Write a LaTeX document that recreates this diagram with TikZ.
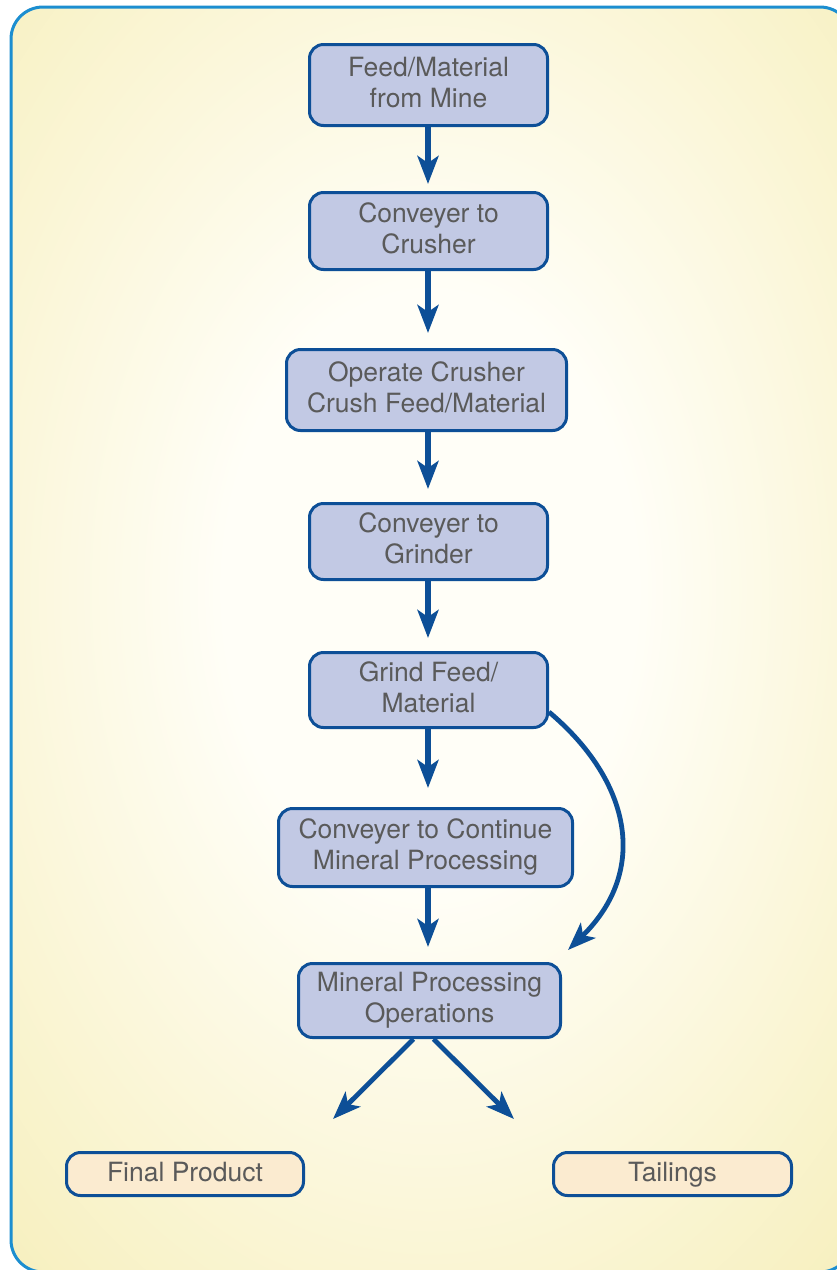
\documentclass[tikz,border=0pt]{standalone}
\usepackage{fontspec}
\setmainfont{TeX Gyre Heros}
\usetikzlibrary{arrows.meta}
\definecolor{bgY}{HTML}{F2E79C}
\definecolor{bgW}{HTML}{FFFEF7}
\definecolor{bgline}{HTML}{1C8ED0}
\definecolor{navy}{HTML}{0D4F97}
\definecolor{lav}{HTML}{C2C9E4}
\definecolor{peach}{HTML}{FBEBD0}
\definecolor{txt}{HTML}{5A5A5A}
\newcommand{\dstr}{\rule[-6pt]{0pt}{6pt}}
\pgfdeclareradialshading{bgshade}{\pgfpoint{0bp}{0bp}}{color(0bp)=(bgW); color(6bp)=(bgW); color(26bp)=(bgY); color(50bp)=(bgY)}
\begin{document}
\begin{tikzpicture}[x=1pt,y=-1pt,
  box/.style={draw=navy, line width=3pt, rounded corners=14pt, fill=lav, text=txt,
    align=center, inner sep=0pt, font=\fontsize{26.5}{31}\selectfont},
  endbox/.style={box, fill=peach, minimum height=43pt, text height=19pt, text depth=5pt},
  arr/.style={draw=navy, line width=5.5pt, -{Stealth[length=28pt,width=21pt,inset=7pt]}},
  arrthin/.style={draw=navy, line width=4.8pt, -{Stealth[length=28pt,width=21pt,inset=7pt]}}]
\useasboundingbox (0,0) rectangle (837,1270);
\begin{scope}
  \clip[rounded corners=32pt] (11,7) rectangle (852,1272);
  \fill[bgY] (0,0) rectangle (860,1280);
  \shade[shading=bgshade] (430,590) ellipse (860 and 1240);
\end{scope}
\draw[bgline, line width=3pt, rounded corners=32pt] (11,7) rectangle (852,1272);

\node[box, minimum width=238pt, minimum height=81pt] (feed) at (428.5,85) {Feed/Material\\from Mine\dstr};
\node[box, minimum width=238pt, minimum height=77pt] (conv1) at (428.5,231) {Conveyer to\\Crusher\dstr};
\node[box, minimum width=280pt, minimum height=81pt] (crush) at (426.5,390) {Operate Crusher\\Crush Feed/Material\dstr};
\node[box, minimum width=238pt, minimum height=76pt] (conv2) at (428.5,541.5) {Conveyer to\\Grinder\dstr};
\node[box, minimum width=238pt, minimum height=75pt] (grind) at (428.5,690) {Grind Feed/\\Material\dstr};
\node[box, minimum width=294pt, minimum height=78pt] (conv3) at (425.5,847.5) {Conveyer to Continue\\Mineral Processing\dstr};
\node[box, minimum width=262pt, minimum height=74pt] (mpo) at (429.5,1000.5) {Mineral Processing\\Operations\dstr};
\node[endbox, minimum width=237pt] (final) at (185,1174) {Final Product};
\node[endbox, minimum width=238pt] (tail) at (672.5,1174) {Tailings};

\coordinate (t1) at (428,184);
\coordinate (t2) at (428,333);
\coordinate (t3) at (428,489);
\coordinate (t4) at (428,638);
\coordinate (t5) at (428,788);
\coordinate (t6) at (428,947);
\coordinate (tc) at (568,950);
\coordinate (tl) at (333,1119);
\coordinate (tr) at (514,1119);

\draw[arr] (feed.south -| t1) -- (t1);
\draw[arr] (conv1.south -| t2) -- (t2);
\draw[arr] (crush.south -| t3) -- (t3);
\draw[arr] (conv2.south -| t4) -- (t4);
\draw[arr] (grind.south -| t5) -- (t5);
\draw[arr] (conv3.south -| t6) -- (t6);
\draw[arrthin] ([yshift=-22pt]grind.east) .. controls (630,780) and (650,870) .. (tc);
\draw[arrthin] ([xshift=-16pt]mpo.south) -- (tl);
\draw[arrthin] ([xshift=4pt]mpo.south) -- (tr);
\end{tikzpicture}
\end{document}
